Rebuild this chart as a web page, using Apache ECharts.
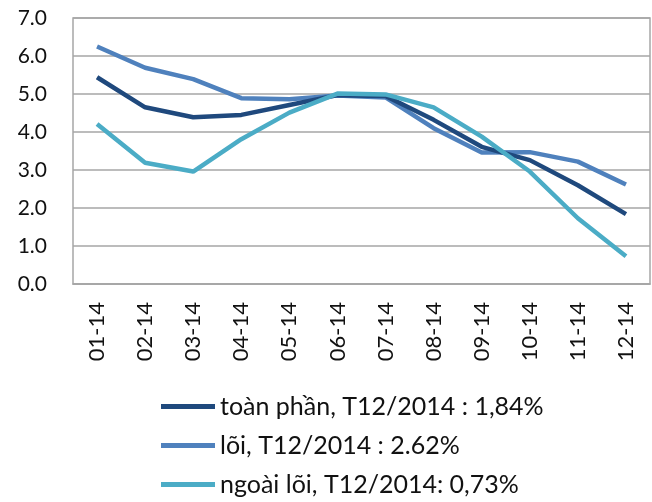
<!DOCTYPE html>
<html>
<head>
<meta charset="utf-8">
<script src="https://cdn.jsdelivr.net/npm/echarts@6/dist/echarts.min.js"></script>
<style>
  html, body { margin: 0; padding: 0; background: #fff; }
  #chart { width: 652px; height: 502px; }
</style>
</head>
<body>
<div id="chart"></div>
<script>
// thang / nam
var months = ['01-14','02-14','03-14','04-14','05-14','06-14','07-14','08-14','09-14','10-14','11-14','12-14'];
var toanPhan = [5.44, 4.65, 4.39, 4.45, 4.71, 4.97, 4.95, 4.32, 3.61, 3.26, 2.60, 1.84];
var loi      = [6.25, 5.69, 5.39, 4.89, 4.86, 4.96, 4.91, 4.10, 3.46, 3.47, 3.22, 2.62];
var ngoaiLoi = [4.21, 3.19, 2.96, 3.81, 4.51, 5.01, 4.99, 4.65, 3.88, 2.96, 1.73, 0.73];
var names = ['toàn phần, T12/2014 : 1,84%', 'lõi, T12/2014 : 2.62%', 'ngoài lõi, T12/2014: 0,73%'];
var colors = ['#1f497d', '#4f81bd', '#4bacc6'];

var font = 'Lato, "Noto Sans", sans-serif';

function line(name, data, color, z) {
    return {
        name: name,
        type: 'line',
        data: data,
        z: z,
        symbol: 'none',
        lineStyle: { color: color, width: 4.5 },
        itemStyle: { color: color }
    }
}

var option = {
    animation: false,
    grid: {
        left: 73, right: 2, top: 18, bottom: 218,
        show: true, borderColor: '#a6a6a6', borderWidth: 1.5
    },
    legend: {
        orient: 'vertical',
        left: 161,
        top: 394,
        height: 110,
        padding: 0,
        icon: 'rect',
        itemWidth: 54,
        itemHeight: 5,
        itemGap: 14,
        textStyle: { fontFamily: font, fontSize: 25, color: '#111' },
        data: names
    },
    xAxis: {
        type: 'category',
        data: months,
        boundaryGap: true,
        axisLine: { lineStyle: { color: '#a6a6a6', width: 1.5 } },
        axisTick: { show: false },
        axisLabel: { rotate: 90, margin: 18, fontFamily: font, fontSize: 22, color: '#111' }
    },
    yAxis: {
        type: 'value',
        min: 0, max: 7, interval: 1,
        axisLine: { show: false },
        axisTick: { show: false },
        splitLine: { lineStyle: { color: '#a6a6a6', width: 1.5 } },
        axisLabel: {
            margin: 26, fontFamily: font, fontSize: 21, color: '#111',
            formatter: function (v) { return v.toFixed(1); }
        }
    },
    series: [
        line(names[0], toanPhan, colors[0], 3),
        line(names[1], loi, colors[1], 2),
        line(names[2], ngoaiLoi, colors[2], 4)
    ]
};

var myChart = echarts.init(document.getElementById('chart'));
myChart.setOption(option);
</script>
</body>
</html>
